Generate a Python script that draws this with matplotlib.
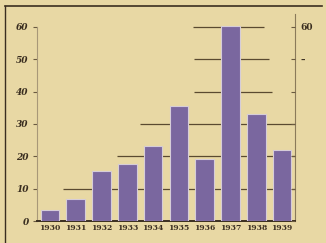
"""
plot.py

Old printed bar chart, 1930-1939.
"""

import matplotlib.pyplot as plt
from matplotlib.lines import Line2D

years = ["1930", "1931", "1932", "1933", "1934",
         "1935", "1936", "1937", "1938", "1939"]
values = [3.4, 6.8, 15.6, 17.6, 23.2, 35.6, 19.2, 60.3, 33.1, 22.0]

# stepped ledger lines: (level, x start, x end) in bar units
grid_levels = [10, 20, 30, 40, 50, 60]
grid_start = [0.5, 2.6, 3.5, 5.6, 5.6, 5.55]
grid_end = [9.5, 9.5, 9.5, 8.6, 8.5, 8.3]

left_ticks = [0, 10, 20, 30, 40, 50, 60]
right_labels = ["", "", "", "", "", "\u2013", "60"]

bg = "#e8d8a4"
ink = "#3a2e20"
bar_color = "#7a679f"

fig = plt.figure(figsize=(3.26, 2.43), dpi=100)
fig.patch.set_facecolor(bg)
ax = fig.add_axes([37 / 326, 22 / 243, 258 / 326, 207 / 243])
ax.set_facecolor(bg)

x = list(range(len(years)))
ax.bar(x, values, width=0.72, color=bar_color, edgecolor="#d6cdd8",
       linewidth=0.8, zorder=3)

for lvl, x0, x1 in zip(grid_levels, grid_start, grid_end):
    ax.hlines(lvl, x0, x1, color="#5a4a30", linewidth=0.9, zorder=2)

ax.set_xlim(-0.5, 9.5)
ax.set_ylim(0, 64)

ax.spines["top"].set_visible(False)
ax.spines["left"].set_bounds(0, 60)
ax.spines["left"].set_color("#a89878")
ax.spines["left"].set_linewidth(0.8)
ax.spines["right"].set_color("#8a7a5a")
ax.spines["right"].set_linewidth(0.8)
ax.spines["bottom"].set_color(ink)
ax.spines["bottom"].set_linewidth(1.4)

ax.set_yticks(left_ticks)
ax.set_yticklabels([str(t) for t in left_ticks], fontfamily="DejaVu Serif",
                   fontweight="bold", fontstyle="italic", fontsize=6.5,
                   color=ink)
ax.tick_params(axis="y", length=3, width=0.8, color="#6a5a40", pad=3)

ax.set_xticks(x)
ax.set_xticklabels(years, fontfamily="DejaVu Serif", fontweight="bold",
                   fontsize=5.5, color=ink)
ax.tick_params(axis="x", length=0, pad=2)

ax2 = ax.twinx()
ax2.set_ylim(0, 64)
ax2.set_yticks(left_ticks)
ax2.set_yticklabels(right_labels, fontfamily="DejaVu Serif", fontweight="bold",
                    fontsize=6.5, color=ink)
ax2.tick_params(axis="y", direction="in", length=3, width=0.8,
                color="#6a5a40", pad=4)
for s in ax2.spines.values():
    s.set_visible(False)

# outer frame of the printed plate
fig.add_artist(Line2D([5 / 326, 5 / 326], [0, 1 - 6 / 243],
                      color=ink, linewidth=1.0))
fig.add_artist(Line2D([5 / 326, 322 / 326], [1 - 6 / 243, 1 - 6 / 243],
                      color=ink, linewidth=1.2))

fig.savefig("out.png", dpi=100, facecolor=bg)
